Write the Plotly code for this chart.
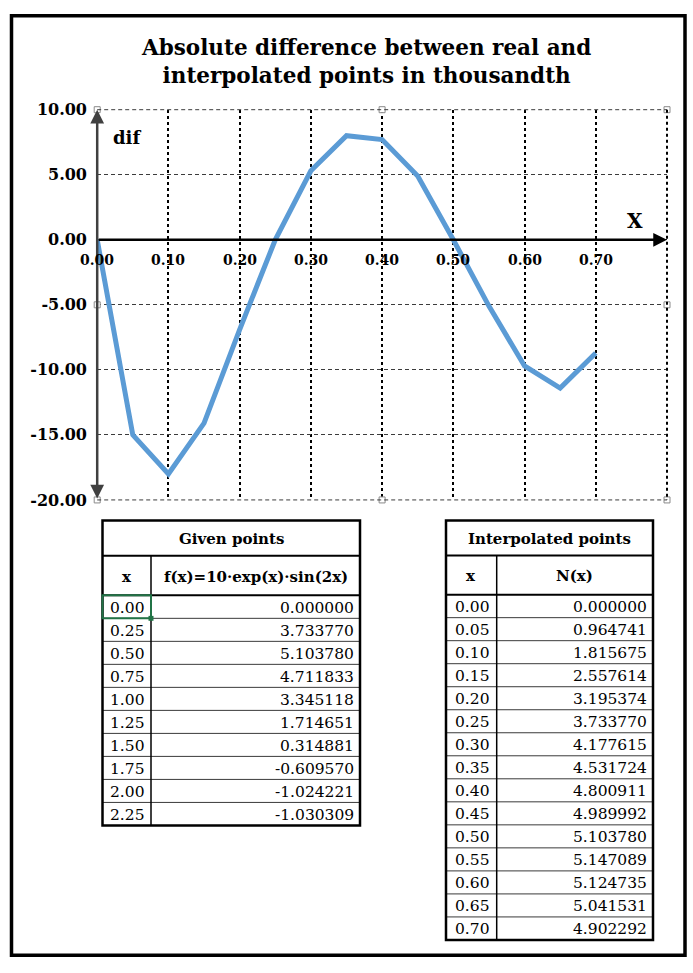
import plotly.graph_objects as go

W, H = 693, 973

# ---------------- data ----------------
x_vals = [0.00, 0.05, 0.10, 0.15, 0.20, 0.25, 0.30, 0.35, 0.40, 0.45, 0.50, 0.55, 0.60, 0.65, 0.70]
dif_vals = [0.0, -15.0, -18.0, -14.1, -6.9, 0.0, 5.3, 8.0, 7.7, 4.9, 0.0, -5.1, -9.7, -11.4, -8.7]

y_tick_vals = [-20, -15, -10, -5, 0, 5, 10]
y_tick_text = ["-20.00", "-15.00", "-10.00", "-5.00", "0.00", "5.00", "10.00"]
x_tick_vals = [0.0, 0.1, 0.2, 0.3, 0.4, 0.5, 0.6, 0.7]
x_tick_text = ["0.00", "0.10", "0.20", "0.30", "0.40", "0.50", "0.60", "0.70"]

handle_x = [0.0, 0.4, 0.8, 0.8, 0.8, 0.4, 0.0, 0.0]
handle_y = [10, 10, 10, -5, -20, -20, -20, -5]

given_x = ["0.00", "0.25", "0.50", "0.75", "1.00", "1.25", "1.50", "1.75", "2.00", "2.25"]
given_f = ["0.000000", "3.733770", "5.103780", "4.711833", "3.345118",
           "1.714651", "0.314881", "-0.609570", "-1.024221", "-1.030309"]

interp_x = ["0.00", "0.05", "0.10", "0.15", "0.20", "0.25", "0.30", "0.35",
            "0.40", "0.45", "0.50", "0.55", "0.60", "0.65", "0.70"]
interp_n = ["0.000000", "0.964741", "1.815675", "2.557614", "3.195374", "3.733770",
            "4.177615", "4.531724", "4.800911", "4.989992", "5.103780", "5.147089",
            "5.124735", "5.041531", "4.902292"]

title_text = "<b>Absolute difference between real and<br>interpolated points in thousandth</b>"

# ---------------- helpers ----------------
SERIF = "DejaVu Serif"


def px(x):
    return x / W


def py(y):
    return 1 - y / H


PLOT_L, PLOT_R, PLOT_T, PLOT_B = 97.2, 667.0, 102.7, 500.7

fig = go.Figure()
fig.add_trace(go.Scatter(
    x=x_vals, y=dif_vals, mode="lines",
    line=dict(color="#5B9BD5", width=5),
    hoverinfo="skip", showlegend=False,
))

shapes = []
annotations = []

# plot-area edge lines (gridlines lying on the border)
shapes.append(dict(type="line", xref="paper", yref="paper",
                   x0=px(PLOT_L), x1=px(PLOT_R), y0=py(PLOT_T), y1=py(PLOT_T),
                   line=dict(color="#3c3c3c", width=1, dash="4px,3px")))
shapes.append(dict(type="line", xref="paper", yref="paper",
                   x0=px(PLOT_L), x1=px(PLOT_R), y0=py(PLOT_B), y1=py(PLOT_B),
                   line=dict(color="#3c3c3c", width=1, dash="4px,3px")))
shapes.append(dict(type="line", xref="paper", yref="paper",
                   x0=px(PLOT_R), x1=px(PLOT_R), y0=py(PLOT_T), y1=py(PLOT_B),
                   line=dict(color="black", width=2, dash="dot")))

# axis arrows
annotations.append(dict(
    x=0, y=10, ax=0, ay=-20, xref="x", yref="y", axref="x", ayref="y",
    text="", showarrow=True, arrowhead=2, arrowside="end+start",
    arrowwidth=2.5, arrowsize=1.1, arrowcolor="#404040", standoff=0, startstandoff=0,
))
annotations.append(dict(
    x=0.8, y=0, ax=0, ay=0, xref="x", yref="y", axref="x", ayref="y",
    text="", showarrow=True, arrowhead=2, arrowwidth=2.5, arrowsize=1.1,
    arrowcolor="black", standoff=0,
))

# x tick labels next to the x axis line
for xv, xt in zip(x_tick_vals, x_tick_text):
    annotations.append(dict(
        x=xv, y=0, xref="x", yref="y", text="<b>" + xt + "</b>", showarrow=False,
        yshift=-20, xanchor="center", yanchor="middle",
        font=dict(family=SERIF, size=14, color="black"),
    ))

# title
annotations.append(dict(
    x=px(366), y=py(53.5), xref="paper", yref="paper", text=title_text, showarrow=False,
    xanchor="center", yanchor="middle", align="center",
    font=dict(family=SERIF, size=21.5, color="black"),
))

# axis names
annotations.append(dict(
    x=px(127), y=py(131), xref="paper", yref="paper", text="<b>dif</b>", showarrow=False,
    xanchor="center", yanchor="middle", font=dict(family=SERIF, size=18, color="black"),
))
annotations.append(dict(
    x=px(635), y=py(216), xref="paper", yref="paper", text="<b>X</b>", showarrow=False,
    xanchor="center", yanchor="middle", font=dict(family=SERIF, size=20, color="black"),
))

# selection handles on plot area
fig.add_trace(go.Scatter(
    x=handle_x, y=handle_y, mode="markers", cliponaxis=False,
    marker=dict(symbol="square", size=6, color="white", line=dict(color="#8a8a8a", width=1)),
    hoverinfo="skip", showlegend=False,
))

# outer border
shapes.append(dict(type="rect", xref="paper", yref="paper",
                   x0=px(11.5), x1=px(685), y0=py(7), y1=py(965),
                   line=dict(color="black", width=3.5)))


def hline(x0, x1, y, w, color="black"):
    shapes.append(dict(type="line", xref="paper", yref="paper",
                       x0=px(x0), x1=px(x1), y0=py(y), y1=py(y),
                       line=dict(color=color, width=w)))


def vline(x, y0, y1, w, color="black"):
    shapes.append(dict(type="line", xref="paper", yref="paper",
                       x0=px(x), x1=px(x), y0=py(y0), y1=py(y1),
                       line=dict(color=color, width=w)))


def text(x, y, s, anchor="center", size=15.5, bold=False):
    annotations.append(dict(
        x=px(x), y=py(y), xref="paper", yref="paper",
        text=("<b>" + s + "</b>") if bold else s, showarrow=False,
        xanchor=anchor, yanchor="middle",
        font=dict(family=SERIF, size=size, color="black"),
    ))


def draw_table(x0, xc, x1, top, h1, h2, bottom, title, col1, col2, xs, vs):
    n = len(xs)
    rh = (bottom - h2) / n
    for i in range(1, n):
        yy = h2 + i * rh
        hline(x0, x1, yy, 1, "#3a3a3a")
    hline(x0, x1, h1, 2)
    hline(x0, x1, h2, 2)
    vline(xc, h1, bottom, 1.5)
    shapes.append(dict(type="rect", xref="paper", yref="paper",
                       x0=px(x0), x1=px(x1), y0=py(top), y1=py(bottom),
                       line=dict(color="black", width=2.5)))
    text((x0 + x1) / 2, (top + h1) / 2 + 1, title, size=15, bold=True)
    text((x0 + xc) / 2, (h1 + h2) / 2 + 1, col1, size=15, bold=True)
    text((xc + x1) / 2, (h1 + h2) / 2 + 1, col2, size=15, bold=True)
    for i, (a, b) in enumerate(zip(xs, vs)):
        yc = h2 + (i + 0.5) * rh + 1
        text((x0 + xc) / 2 + 1, yc, a)
        text(x1 - 4, yc, b, anchor="right")
    return rh


rh_g = draw_table(102.5, 151.0, 360.0, 521.7, 557.7, 598.0, 832.7,
                  "Given points", "x", "f(x)=10·exp(x)·sin(2x)", given_x, given_f)
rh_i = draw_table(446.0, 496.7, 653.0, 521.7, 557.3, 597.3, 949.5,
                  "Interpolated points", "x", "N(x)", interp_x, interp_n)

# selected cell (Excel-like)
shapes.append(dict(type="rect", xref="paper", yref="paper",
                   x0=px(102.5), x1=px(151.0), y0=py(598.0), y1=py(598.0 + rh_g),
                   line=dict(color="#217346", width=2)))
shapes.append(dict(type="rect", xref="paper", yref="paper",
                   x0=px(148.5), x1=px(153.5), y0=py(598.0 + rh_g - 2.5), y1=py(598.0 + rh_g + 2.5),
                   fillcolor="#217346", line=dict(color="#217346", width=0)))

fig.update_layout(
    width=W, height=H,
    margin=dict(l=0, r=0, t=0, b=0),
    paper_bgcolor="white", plot_bgcolor="white",
    showlegend=False,
    xaxis=dict(
        domain=[px(PLOT_L), px(PLOT_R)], range=[0, 0.8],
        tick0=0, dtick=0.1, showticklabels=False, ticks="",
        showgrid=True, gridcolor="black", griddash="dot", gridwidth=2,
        zeroline=False, showline=False, fixedrange=True,
    ),
    yaxis=dict(
        domain=[py(PLOT_B), py(PLOT_T)], range=[-20, 10],
        tickmode="array", tickvals=y_tick_vals, ticktext=y_tick_text,
        ticks="outside", ticklen=6, tickcolor="rgba(0,0,0,0)",
        tickfont=dict(family=SERIF, size=16, color="black", weight="bold"),
        showgrid=True, gridcolor="#3c3c3c", griddash="4px,3px", gridwidth=1,
        zeroline=False, showline=False, fixedrange=True,
    ),
    shapes=shapes,
    annotations=annotations,
)

fig.write_html(
    "out.html",
    config={"displayModeBar": False},
    post_script=("document.documentElement.style.margin='0px';"
                 "document.documentElement.style.padding='0px';"
                 "document.documentElement.style.overflow='hidden';"
                 "document.body.style.margin='0px';"
                 "document.body.style.padding='0px';"
                 "document.body.style.overflow='hidden';"),
)
